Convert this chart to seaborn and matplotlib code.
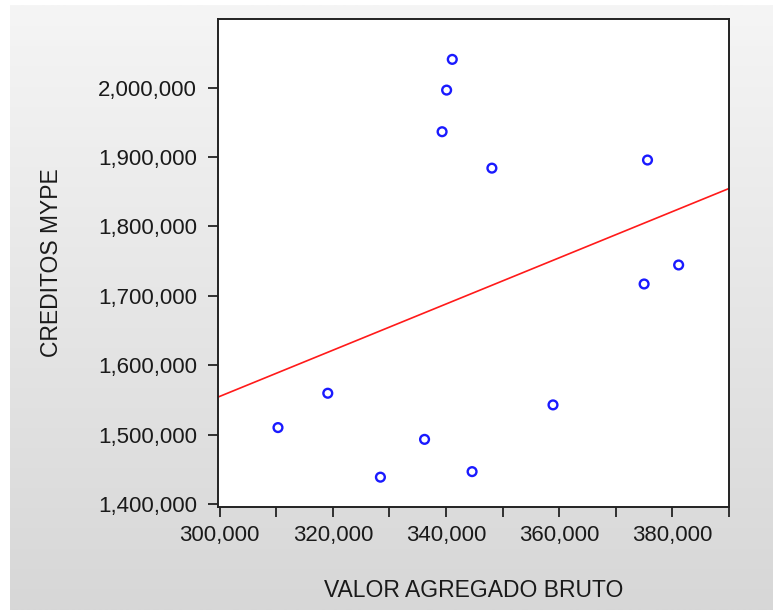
import numpy as np
import pandas as pd
import seaborn as sns
import matplotlib.pyplot as plt
from matplotlib.colors import LinearSegmentedColormap
from matplotlib.ticker import FuncFormatter, MultipleLocator

# Datos
valor_agregado = [310300, 319100, 328400, 336200, 344600, 358900, 341100,
                  340100, 339300, 348100, 375600, 375000, 381100]
creditos_mype = [1510000, 1559500, 1438500, 1493000, 1446500, 1542700, 2040800,
                 1996500, 1936500, 1884000, 1895700, 1717000, 1744400]

df = pd.DataFrame({"VALOR AGREGADO BRUTO": valor_agregado,
                   "CREDITOS MYPE": creditos_mype})

sns.set_theme(style="ticks")
plt.rcParams['font.family'] = ['Liberation Sans', 'DejaVu Sans']

fig = plt.figure(figsize=(7.73, 6.10), dpi=100, facecolor='white')

# fondo gris degradado
bg = fig.add_axes([10 / 773, 0, 1 - 10 / 773, 1 - 5 / 610], zorder=-1)
cmap = LinearSegmentedColormap.from_list("bg", ["#f5f5f5", "#d7d7d7"])
bg.imshow(np.linspace(0, 1, 256).reshape(-1, 1), aspect='auto', cmap=cmap)
bg.axis('off')

ax = fig.add_axes([218 / 773, 1 - 507 / 610, (729 - 218) / 773, (507 - 19) / 610])
ax.set_facecolor('white')
ax.set_xlim(299700, 390000)
ax.set_ylim(1395500, 2099000)

sns.regplot(data=df, x="VALOR AGREGADO BRUTO", y="CREDITOS MYPE", ax=ax,
            ci=None, truncate=False,
            scatter_kws={'facecolors': 'none', 'edgecolors': '#1a1aff',
                         's': 40, 'linewidths': 1.7, 'alpha': 1},
            line_kws={'color': '#ff1a1a', 'lw': 1.2})

fmt = FuncFormatter(lambda v, p: f"{v:,.0f}")
ax.xaxis.set_major_locator(MultipleLocator(20000))
ax.xaxis.set_minor_locator(MultipleLocator(10000))
ax.yaxis.set_major_locator(MultipleLocator(100000))
ax.xaxis.set_major_formatter(fmt)
ax.yaxis.set_major_formatter(fmt)

ax.tick_params(axis='x', which='both', length=7, width=1.3, color='#222222',
               labelsize=16, labelcolor='#1a1a1a', pad=6)
ax.tick_params(axis='y', length=7, width=1.3, color='#222222',
               labelsize=16, labelcolor='#1a1a1a', pad=8)

for s in ax.spines.values():
    s.set_visible(True)
    s.set_color('#222222')
    s.set_linewidth(1.4)

ax.set_xlabel("VALOR AGREGADO BRUTO", fontsize=16.5, color='#1a1a1a', labelpad=24)
ax.set_ylabel("CREDITOS MYPE", fontsize=16.5, color='#1a1a1a', labelpad=25)

fig.savefig("out.png", dpi=100)
